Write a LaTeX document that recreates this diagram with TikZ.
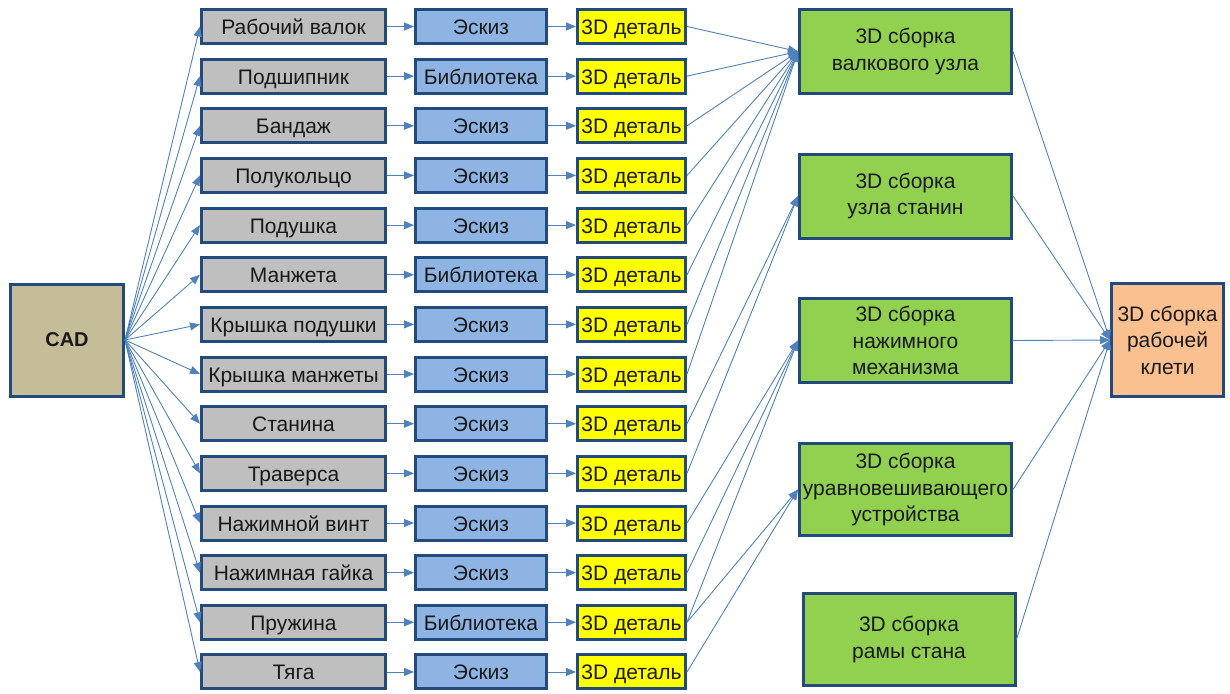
\documentclass[tikz,border=0pt]{standalone}
\usepackage{fontspec}
\setmainfont{Liberation Sans}
\usetikzlibrary{arrows.meta}
\definecolor{bord}{HTML}{234A7C}
\definecolor{conn}{HTML}{4F81BD}
\definecolor{grayf}{HTML}{BFBFBF}
\definecolor{bluef}{HTML}{8EB4E3}
\definecolor{yellowf}{HTML}{FFFF00}
\definecolor{greenf}{HTML}{92D050}
\definecolor{tanf}{HTML}{C4BD97}
\definecolor{salmonf}{HTML}{FAC090}
\begin{document}
\begin{tikzpicture}[x=1pt,y=-1pt,
  box/.style={draw=bord, line width=3pt, rectangle, inner sep=0pt, align=center,
    font=\fontsize{21}{26.5}\selectfont, text=black!90},
  rowbox/.style={box, minimum height=34pt, text height=18pt, text depth=2pt},
  partbox/.style={rowbox, fill=grayf, minimum width=184pt},
  srcbox/.style={rowbox, fill=bluef, minimum width=131pt},
  detbox/.style={rowbox, fill=yellowf, minimum width=108pt},
  asmbox/.style={box, fill=greenf, minimum width=212pt, minimum height=84pt},
  cn/.style={draw=conn, line width=0.9pt, -{Triangle[length=10pt,width=8pt]}}]
\useasboundingbox (0,0) rectangle (1230,693);

\node[box, fill=tanf, minimum width=113pt, minimum height=112pt, font=\fontsize{20}{26}\selectfont\bfseries] (cad) at (67,340) {CAD};

\foreach \i/\part/\src in {1/Рабочий валок/Эскиз, 2/Подшипник/Библиотека, 3/Бандаж/Эскиз,
  4/Полукольцо/Эскиз, 5/Подушка/Эскиз, 6/Манжета/Библиотека, 7/Крышка подушки/Эскиз,
  8/Крышка манжеты/Эскиз, 9/Станина/Эскиз, 10/Траверса/Эскиз, 11/Нажимной винт/Эскиз,
  12/Нажимная гайка/Эскиз, 13/Пружина/Библиотека, 14/Тяга/Эскиз}{
  \pgfmathsetmacro{\yy}{26.5+49.65*(\i-1)}
  \node[partbox] (g\i) at (293.5,\yy) {\part};
  \node[srcbox] (b\i) at (481,\yy) {\src};
  \node[detbox] (d\i) at (631.5,\yy) {3D деталь};
  \draw[cn] (cad.east) -- (g\i.west);
  \draw[cn] (g\i.east) -- (b\i.west);
  \draw[cn] (b\i.east) -- (d\i.west);
}

\node[asmbox] (a1) at (905.5,51.5) {3D сборка\\валкового узла};
\node[asmbox] (a2) at (905.5,196) {3D сборка\\узла станин};
\node[asmbox] (a3) at (905.5,340.5) {3D сборка\\нажимного\\механизма};
\node[asmbox, minimum height=92pt] (a4) at (905.5,489.5) {3D сборка\\уравновешивающего\\устройства};
\node[asmbox, minimum height=92pt] (a5) at (909,639.5) {3D сборка\\рамы стана};
\node[box, fill=salmonf, minimum width=112pt, minimum height=113pt] (fin) at (1167.5,340) {3D сборка\\рабочей\\клети};

\foreach \i in {1,...,8}{\draw[cn] (d\i.east) -- (a1.west);}
\foreach \i in {9,10}{\draw[cn] (d\i.east) -- (a2.west);}
\foreach \i in {11,12,13}{\draw[cn] (d\i.east) -- (a3.west);}
\foreach \i in {13,14}{\draw[cn] (d\i.east) -- (a4.west);}
\foreach \i in {1,...,5}{\draw[cn] (a\i.east) -- (fin.west);}
\end{tikzpicture}
\end{document}
